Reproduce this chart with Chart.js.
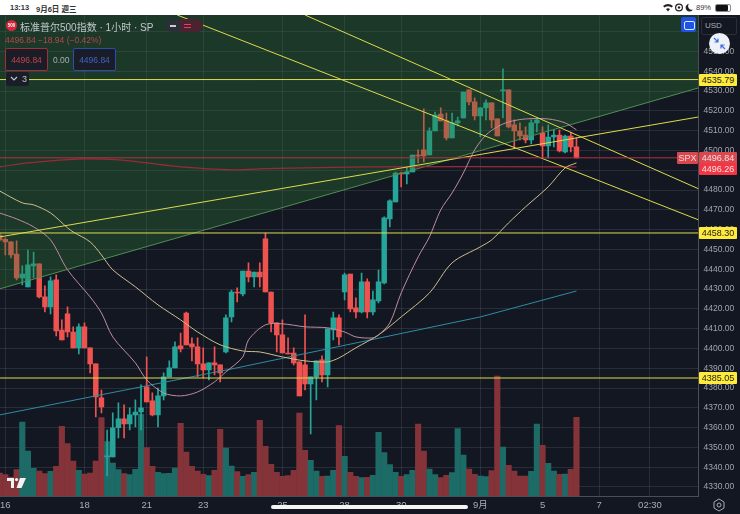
<!DOCTYPE html>
<html>
<head>
<meta charset="utf-8">
<title>SPX 1h</title>
<script src="https://cdn.jsdelivr.net/npm/chart.js@4"></script>
<style>
    html, body { margin: 0; padding: 0; background: #fff; overflow: hidden; }
    body { width: 740px; height: 514px; position: relative; font-family: "Liberation Sans", "Noto Sans CJK SC", sans-serif; }
    #stage { position: absolute; left: 0; top: 15px; width: 740px; height: 499px; background: #131722; overflow: hidden; }
    #chart { position: absolute; left: 0; top: 0; filter: blur(0.4px); }
    .abs { position: absolute; white-space: nowrap; }
    .badge { position: absolute; left: 699px; width: 38px; height: 12px; line-height: 12px; font-size: 9px; text-align: center; border-radius: 1px; }
    .box { position: absolute; top: 48px; height: 23px; width: 43px; line-height: 23px; font-size: 8.5px; text-align: center; border-radius: 2px; box-sizing: border-box; background: #1a1d27; }
</style>
</head>
<body>
<div id="stage"><canvas id="chart" width="740" height="499"></canvas></div>

<div class="abs" style="left:10px;top:3px;font-size:7.5px;font-weight:bold;color:#333;">13:13</div>
<div class="abs" style="left:36px;top:3px;font-size:7.5px;font-weight:bold;color:#333;">9月6日 週三</div>
<svg class="abs" style="left:663px;top:3px;" width="50" height="9" viewBox="0 0 50 9">
    <path d="M0 3 Q5 -1 10 3 L8.5 4.6 Q5 2 1.5 4.6 Z M3 6 Q5 4.5 7 6 L5 8.5 Z" fill="#222"/>
    <circle cx="16" cy="4.5" r="3.4" fill="none" stroke="#222" stroke-width="1.2"/>
    <circle cx="16" cy="4.5" r="1.2" fill="#222"/>
    <path d="M26 0.8 A3.9 3.9 0 1 0 30 6.5 A3.6 3.6 0 0 1 26 0.8 Z" fill="#222"/>
</svg>
<div class="abs" style="left:696px;top:3px;font-size:7.5px;color:#333;">89%</div>
<div class="abs" style="left:715px;top:3.5px;width:14px;height:6px;border:1px solid #888;border-radius:2px;"><div style="width:12px;height:6px;background:#111;border-radius:1px;"></div></div>

<div class="abs" style="left:6px;top:20px;width:11px;height:11px;border-radius:50%;background:#d7263d;color:#fff;font-size:4.5px;line-height:11px;text-align:center;font-weight:bold;">500</div>
<div class="abs" style="left:20px;top:19px;font-size:10px;color:#c3c6cc;">标准普尔500指数 · 1小时 · SP</div>
<div class="abs" style="left:165px;top:19px;width:38px;height:13px;border-radius:7px;background:#2a2f38;"></div>
<div class="abs" style="left:180px;top:19px;width:23px;height:13px;border-radius:0 7px 7px 0;background:#4a2230;"></div>
<div class="abs" style="left:170px;top:24.5px;width:6px;height:2px;background:#c8ccd4;"></div>
<div class="abs" style="left:184px;top:23.5px;width:7px;height:1.4px;background:#e0406a;"></div>
<div class="abs" style="left:184px;top:26.5px;width:7px;height:1.4px;background:#e0406a;"></div>
<div class="abs" style="left:5px;top:35px;font-size:8.5px;color:#b5494a;">4496.84 −18.94 (−0.42%)</div>
<div class="box" style="left:5px;border:1px solid #9e3039;color:#c1444c;">4496.84</div>
<div class="abs" style="left:53px;top:55px;font-size:8.5px;color:#a9adb5;">0.00</div>
<div class="box" style="left:73px;border:1px solid #2b4fa8;color:#3e63c4;">4496.84</div>
<div class="abs" style="left:6px;top:72px;width:23px;height:14px;background:#1a1d27;border-radius:2px;"></div>
<div class="abs" style="left:22px;top:74px;font-size:9px;color:#c3c6cc;">3</div>
<svg class="abs" style="left:10px;top:76px;" width="8" height="6"><path d="M1 1 L4 4 L7 1" stroke="#c3c6cc" stroke-width="1.2" fill="none"/></svg>

<div class="abs" style="left:681px;top:17px;width:15px;height:15px;background:#1e53e5;border-radius:2px;"></div>
<div class="abs" style="left:684px;top:21px;width:9px;height:7px;border:1px solid #dfe6ff;border-radius:2px;"></div>
<div class="abs" style="left:701px;top:17px;width:34px;height:16px;border:1px solid #2a2e39;border-radius:2px;background:#131722;color:#a9adb5;font-size:8px;line-height:16px;text-indent:3px;">USD</div>
<div class="abs" style="left:709px;top:33px;width:21px;height:21px;border-radius:50%;background:#eef1f8;"></div>
<svg class="abs" style="left:712px;top:36px;" width="15" height="15"><path d="M2 2 L6 6 M6 2.5 V6 H2.5 M13 13 L9 9 M9 12.5 V9 H12.5" stroke="#3a6fe0" stroke-width="1.2" fill="none"/></svg>

<svg class="abs" style="left:7px;top:478px;" width="20" height="11" viewBox="0 0 20 11"><path d="M0 0 H7 V10 H4 V3 H0 Z" fill="#f2f2f2"/><circle cx="9.5" cy="1.6" r="1.6" fill="#f2f2f2"/><path d="M13 0 H19 L14.5 10 H9.5 Z" fill="#f2f2f2"/></svg>
<div class="abs" style="left:271px;top:504.5px;width:197px;height:4.5px;border-radius:3px;background:#f4f4f4;"></div>
<svg class="abs" style="left:712px;top:498px;" width="14" height="14"><path d="M7 1 L12 4 V10 L7 13 L2 10 V4 Z" fill="none" stroke="#a9adb5"/><circle cx="7" cy="7" r="2" fill="none" stroke="#a9adb5"/></svg>

<script>
const yMin = 4325.45;
const yMax = 4568.4;
const slotMin = 0.06;
const slotMax = 123.58;
const volumeCeil = 1443;

const xTickSlots = [1, 15, 26, 36, 50, 61, 71, 85, 96, 106, 115];
const xTickLabels = ['16', '18', '21', '23', '25', '28', '30', '9月', '5', '7', '02:30'];

const opens = [4457.3, 4455.1, 4453.8, 4447.7, 4435.6, 4431.1, 4441.7, 4442.7, 4426, 4421, 4434.6, 4409.3, 4417.4, 4408.3, 4400.3, 4410.9, 4400.3, 4392.2, 4375, 4345.2, 4345.2, 4359.9, 4364.4, 4361.9, 4366.4, 4367.9, 4380.6, 4373.5, 4366.4, 4376, 4385.6, 4390.2, 4401.3, 4417.9, 4402.3, 4400.8, 4392.2, 4389.1, 4392.7, 4391.7, 4398.2, 4415.9, 4428.5, 4427.5, 4439.1, 4436.1, 4438.6, 4455.3, 4428.5, 4412.9, 4406.8, 4397.7, 4397.7, 4393.2, 4391.7, 4382.1, 4385.6, 4394.2, 4386.6, 4409.3, 4415.4, 4428.5, 4437.6, 4420.5, 4418.4, 4433.6, 4418.4, 4424, 4433.1, 4465.4, 4474, 4488.6, 4488.1, 4489.1, 4497.7, 4500.3, 4497.7, 4509.8, 4518.4, 4514.9, 4506.3, 4513.9, 4516.4, 4530.6, 4524.5, 4517.4, 4521.5, 4524, 4515.9, 4530, 4530.6, 4512.9, 4509.8, 4507.8, 4505.3, 4513.9, 4508.8, 4502.3, 4506.8, 4507.8, 4499.2, 4507.3, 4501.8];
const closes = [4454.8, 4453.8, 4447.2, 4435.6, 4437.6, 4442.2, 4442.7, 4426, 4421, 4434.1, 4408.8, 4404.3, 4408.3, 4400.3, 4410.9, 4400.3, 4392.2, 4375.5, 4370.5, 4345.7, 4359.9, 4364.4, 4361.9, 4366.4, 4367.9, 4370, 4373, 4366.4, 4376, 4385.6, 4390.2, 4400.8, 4399.8, 4401.8, 4400.8, 4392.2, 4389.1, 4392.7, 4391.7, 4387.6, 4415.4, 4428.5, 4428, 4439.1, 4436.1, 4438.6, 4436.1, 4428.5, 4412.9, 4406.8, 4397.7, 4397.2, 4392.7, 4376, 4382.1, 4385.6, 4393.7, 4386.6, 4409.9, 4415.4, 4405.8, 4437.1, 4420, 4418.4, 4433.6, 4418.4, 4424.5, 4433.6, 4465.9, 4474.5, 4488.6, 4488.1, 4489.1, 4497.7, 4497.2, 4497.2, 4509.8, 4517.9, 4514.9, 4506.3, 4513.9, 4514.9, 4529.5, 4524.5, 4517.4, 4521.5, 4524, 4515.4, 4507.3, 4530.6, 4511.9, 4509.8, 4507.3, 4505.3, 4513.9, 4515.4, 4502.3, 4506.8, 4507.8, 4499.7, 4507.3, 4501.8, 4496.26];
const highs = [4458.3, 4455.8, 4454, 4454.3, 4441.7, 4449.7, 4448.7, 4442.7, 4431.6, 4436.1, 4437.1, 4414.4, 4421, 4410.9, 4412.4, 4412.9, 4400.3, 4392.2, 4379, 4358.8, 4367.4, 4372.5, 4371.5, 4370, 4374, 4381.6, 4395.7, 4377.5, 4380, 4387.6, 4393.7, 4403.3, 4407.8, 4418.4, 4405.3, 4405.3, 4400.3, 4392.7, 4400.8, 4391.7, 4416.9, 4429.5, 4430.6, 4439.1, 4443.2, 4438.6, 4443.2, 4458.3, 4428.5, 4412.9, 4414.4, 4405.3, 4400.3, 4393.2, 4416.9, 4385.6, 4393.7, 4396.2, 4409.9, 4418.4, 4416.9, 4438.1, 4437.6, 4425.5, 4438.1, 4435.1, 4429, 4439.6, 4466.4, 4475, 4489.1, 4489.1, 4491.7, 4497.7, 4500.3, 4521, 4511.4, 4519.4, 4521.5, 4518.9, 4518.9, 4516.9, 4529.5, 4530.6, 4526.5, 4521.5, 4525.5, 4524, 4515.9, 4541.2, 4530.6, 4515.4, 4513.9, 4511.9, 4515.4, 4516.4, 4511.9, 4512.9, 4510.4, 4510.4, 4507.8, 4509.3, 4506.3];
const lows = [4454.3, 4447.2, 4445.7, 4434.6, 4432.1, 4431.1, 4435.6, 4425.5, 4418.4, 4417.4, 4406.3, 4404.3, 4405.8, 4400.3, 4397.2, 4400.3, 4387.6, 4365.4, 4367.4, 4335.6, 4345.2, 4354.8, 4354.8, 4358.8, 4360.4, 4358.8, 4373, 4365.9, 4360.4, 4374, 4385.6, 4390.2, 4398.2, 4401.8, 4393.7, 4385.6, 4385.1, 4384.1, 4386.6, 4383.1, 4397.7, 4413.4, 4423.5, 4426.5, 4433.6, 4431.1, 4431.1, 4428.5, 4408.3, 4398.2, 4397.7, 4397.2, 4391.7, 4376, 4379, 4356.8, 4374, 4383.1, 4380.6, 4404.3, 4401.8, 4424.5, 4418.4, 4415.4, 4417.9, 4415.4, 4416.9, 4423, 4432.6, 4461.4, 4474, 4481.6, 4483.1, 4489.1, 4493.7, 4494.2, 4497.7, 4509.8, 4514.9, 4505.3, 4506.3, 4512.4, 4516.4, 4523, 4515.4, 4506.8, 4515.4, 4511.4, 4507.3, 4516.4, 4511.4, 4501.3, 4505.3, 4503.8, 4503.3, 4509.3, 4496.2, 4496.2, 4501.8, 4499.2, 4498.7, 4499.2, 4496.2];
const volumes = [69, 64, 57, 79, 222, 135, 83, 75, 67, 74, 89, 209, 157, 105, 77, 66, 69, 105, 235, 163, 99, 79, 67, 64, 80, 245, 145, 89, 71, 67, 68, 84, 218, 132, 89, 75, 65, 61, 77, 200, 144, 90, 73, 59, 64, 71, 227, 149, 95, 71, 59, 61, 77, 249, 137, 107, 75, 59, 60, 77, 211, 119, 71, 59, 55, 56, 62, 191, 130, 94, 71, 59, 64, 77, 216, 135, 81, 64, 55, 62, 70, 202, 123, 81, 65, 60, 58, 76, 360, 147, 92, 75, 60, 60, 74, 216, 152, 98, 75, 65, 66, 80, 236];

const fastMaSlots = [0, 3, 6, 9, 12, 16, 18, 20, 24, 26, 29, 32, 35, 38, 40, 43, 44, 47, 50, 54, 58, 61, 63, 66, 67, 69, 71, 74, 76, 78, 80, 82, 84, 86, 88, 90, 93, 97, 100, 102];
const fastMaValues = [4468.4, 4465.4, 4461.4, 4454.8, 4439.7, 4426, 4417.9, 4405.8, 4392.7, 4384.1, 4377.5, 4376, 4378, 4383.1, 4388.1, 4395.7, 4404.3, 4411.9, 4412.4, 4410.9, 4410.4, 4408.3, 4405.8, 4405.3, 4406.8, 4412.9, 4428, 4446.2, 4456.3, 4470, 4478.5, 4488.6, 4500.3, 4507.8, 4511.9, 4514.4, 4515.9, 4515.9, 4513.9, 4510.4];
const slowMaSlots = [0, 4, 6, 9, 12, 13, 16, 18, 20, 24, 28, 32, 35, 39, 43, 46, 50, 54, 58, 60, 63, 67, 71, 76, 80, 85, 87, 90, 93, 97, 100, 102];
const slowMaValues = [4479.5, 4473.5, 4472.5, 4468.4, 4460.9, 4458.8, 4453.8, 4447.2, 4439.7, 4431.1, 4422, 4414.4, 4408.3, 4401.8, 4398.7, 4398.2, 4395.7, 4393.7, 4393.2, 4395.2, 4400.3, 4406.8, 4415.9, 4428, 4443.2, 4451.3, 4454.8, 4463.4, 4471.5, 4481.6, 4491.2, 4493.7];
const blueMaSlots = [0, 42, 85, 102];
const blueMaValues = [4366.4, 4390.2, 4415.9, 4429];
const redMaSlots = [0, 5, 15, 21, 26, 32, 41, 46, 65, 102];
const redMaValues = [4491.7, 4493.7, 4495.7, 4495.2, 4493.7, 4491.7, 4490.2, 4490.7, 4491.7, 4491.7];

const levelValues = [4535.79, 4458.30, 4385.05];
const lastPrice = 4496.26;
const priceBadges = ['4496.84', '4496.26'];

const greenTrendSlots = [0, 123.6];
const greenTrendValues = [4430.05, 4531.6];
const risingTrendSlots = [0, 123.6];
const risingTrendValues = [4456.3, 4516.9];
const fallingASlots = [54, 123.6];
const fallingAValues = [4568.4, 4480.6];
const fallingBSlots = [31.4, 123.6];
const fallingBValues = [4568.4, 4464.9];

const upColor = '#26a69a';
const downColor = '#ef5350';
const upVolume = '#1d6b66';
const downVolume = '#843439';
const trendYellow = '#dedb4c';

const slots = opens.map((_, i) => i);
const isUp = i => closes[i] >= opens[i];
const points = (xs, ys) => xs.map((x, i) => ({ x: x, y: ys[i] }));
const levelSlots = [slotMin, slotMax];
const levelLine = value => [value, value];

function lineSet(xs, ys, color, order, extra) {
    return Object.assign({
        type: 'line',
        data: points(xs, ys),
        borderColor: color,
        borderWidth: 1,
        pointRadius: 0,
        order: order
    }, extra || {});
}

const gridColor = 'rgba(190,195,210,0.13)';
const axisColor = '#4a4e5a';

const chart = new Chart(document.getElementById('chart'), {
    type: 'bar',
    data: {
        datasets: [
            lineSet(levelSlots, levelLine(levelValues[0]), trendYellow, 1),
            lineSet(levelSlots, levelLine(levelValues[1]), trendYellow, 1),
            lineSet(levelSlots, levelLine(levelValues[2]), trendYellow, 1),
            lineSet(levelSlots, levelLine(lastPrice), '#b0353f', 1),
            lineSet(risingTrendSlots, risingTrendValues, trendYellow, 1),
            lineSet(fallingASlots, fallingAValues, trendYellow, 1),
            lineSet(fallingBSlots, fallingBValues, trendYellow, 1),
            lineSet(fastMaSlots, fastMaValues, '#c08ba2', 1, { tension: 0.3 }),
            lineSet(slowMaSlots, slowMaValues, '#cdbf8e', 1, { tension: 0.3 }),
            lineSet(blueMaSlots, blueMaValues, '#2f8ca3', 1),
            lineSet(redMaSlots, redMaValues, '#9a2b36', 1, { tension: 0.3, borderWidth: 1.2 }),
            lineSet(greenTrendSlots, greenTrendValues, '#4f8f52', 2, { fill: 'end', backgroundColor: 'rgba(50,125,58,0.33)' }),
            {
                data: slots.map(i => ({ x: i, y: [opens[i], closes[i]] })),
                backgroundColor: slots.map(i => isUp(i) ? upColor : downColor),
                barThickness: 4.8,
                maxBarThickness: 4.8,
                order: 4
            },
            {
                data: slots.map(i => ({ x: i, y: [lows[i], highs[i]] })),
                backgroundColor: slots.map(i => isUp(i) ? upColor : downColor),
                barThickness: 1,
                maxBarThickness: 1,
                order: 5
            },
            {
                data: slots.map(i => ({ x: i, y: volumes[i] })),
                backgroundColor: slots.map(i => isUp(i) ? upVolume : downVolume),
                barThickness: 5.5,
                maxBarThickness: 5.5,
                yAxisID: 'y2',
                order: 6
            }
        ]
    },
    options: {
        responsive: false,
        animation: false,
        datasets: { bar: { grouped: false } },
        plugins: { legend: { display: false }, tooltip: { enabled: false } },
        layout: { padding: 0 },
        scales: {
            x: {
                type: 'linear',
                min: slotMin,
                max: slotMax,
                offset: false,
                grid: { color: gridColor, drawTicks: false, offset: false },
                border: { color: axisColor },
                afterBuildTicks: axis => { axis.ticks = xTickSlots.map(v => ({ value: v })); },
                afterFit: axis => { axis.height = 18; axis.paddingLeft = 0; axis.paddingRight = 0; },
                ticks: {
                    autoSkip: false,
                    maxRotation: 0,
                    padding: 4,
                    color: '#a9adb5',
                    font: { family: 'Liberation Sans, Noto Sans CJK SC', size: 9.5 },
                    callback: value => xTickLabels[xTickSlots.indexOf(value)]
                }
            },
            y: {
                position: 'right',
                min: yMin,
                max: yMax,
                grid: { color: gridColor, drawTicks: false },
                border: { color: axisColor },
                afterFit: axis => { axis.width = 41.5; axis.paddingTop = 0; axis.paddingBottom = 0; },
                ticks: {
                    stepSize: 10,
                    autoSkip: false,
                    includeBounds: false,
                    padding: 5,
                    color: '#a0a4ac',
                    font: { family: 'Liberation Sans', size: 8.5 },
                    callback: value => value.toFixed(2)
                }
            },
            y2: { display: false, min: 0, max: volumeCeil }
        }
    }
});

// price tags on the axis, placed from the chart's own scale
function addBadge(text, top, left, width, bg, color) {
    const tag = document.createElement('div');
    tag.className = 'badge';
    tag.textContent = text;
    tag.style.top = top + 'px';
    tag.style.left = left + 'px';
    tag.style.width = width + 'px';
    tag.style.background = bg;
    tag.style.color = color;
    document.body.appendChild(tag);
}

const stageTop = 15;
levelValues.forEach(v => {
    const mid = stageTop + chart.scales.y.getPixelForValue(v);
    addBadge(v.toFixed(2), mid - 6, 699, 38, '#ffeb3b', '#1a1a1a');
});
const lastMid = stageTop + chart.scales.y.getPixelForValue(lastPrice);
addBadge('SPX', lastMid - 6, 677, 21, '#d9484f', '#f4d9da');
addBadge(priceBadges[0], lastMid - 6, 699, 38, '#d9484f', '#f7dddd');
addBadge(priceBadges[1], lastMid + 5, 699, 38, '#f23645', '#fbe0e0');
</script>
</body>
</html>
